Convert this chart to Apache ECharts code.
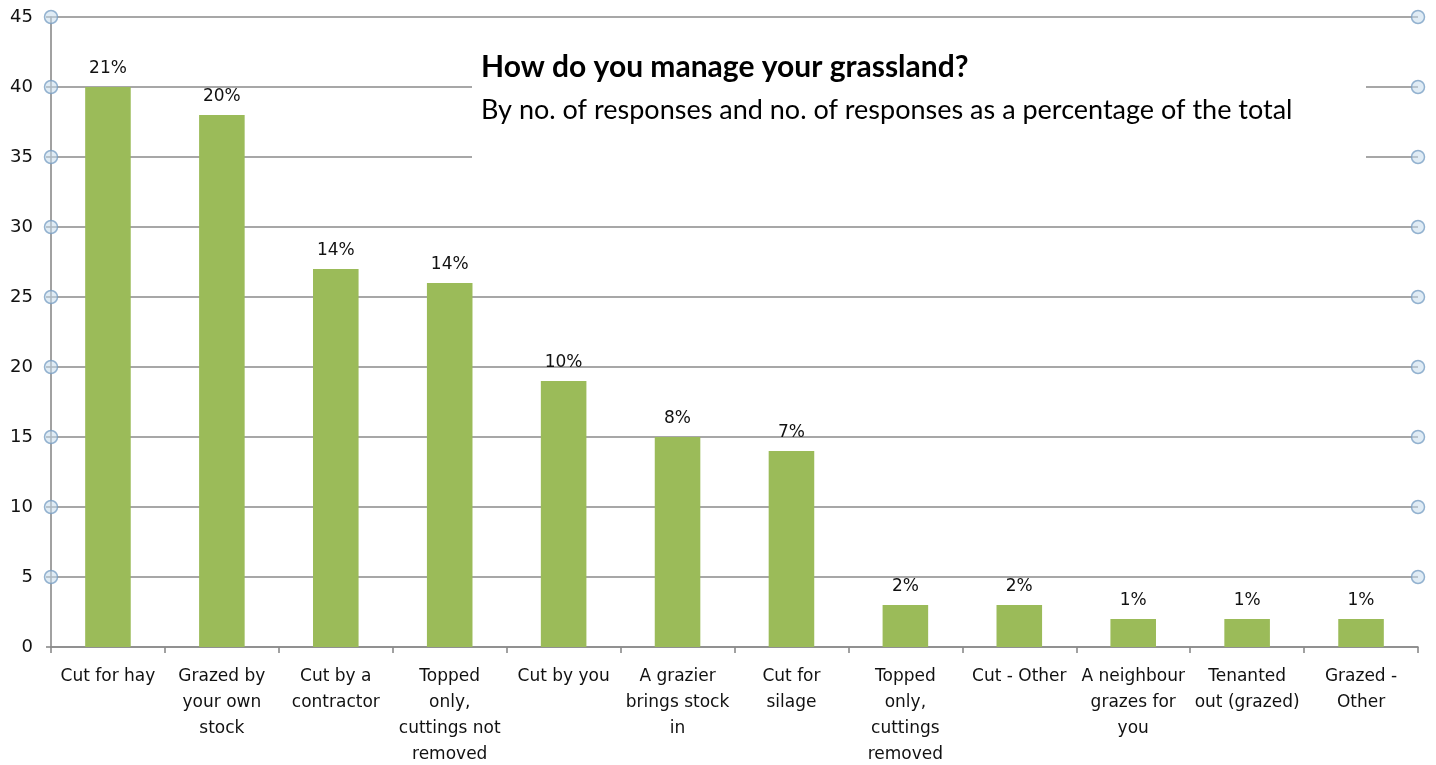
<!DOCTYPE html>
<html>
<head>
<meta charset="utf-8">
<script src="https://cdn.jsdelivr.net/npm/echarts@6/dist/echarts.min.js"></script>
<style>
html,body{margin:0;padding:0;background:#fff;}
#c{width:1436px;height:765px;}
</style>
</head>
<body>
<div id="c"></div>
<script>
const categories = [
  "Cut for hay",
  "Grazed by\nyour own\nstock",
  "Cut by a\ncontractor",
  "Topped\nonly,\ncuttings not\nremoved",
  "Cut by you",
  "A grazier\nbrings stock\nin",
  "Cut for\nsilage",
  "Topped\nonly,\ncuttings\nremoved",
  "Cut - Other",
  "A neighbour\ngrazes for\nyou",
  "Tenanted\nout (grazed)",
  "Grazed -\nOther"
];
const responses = [40, 38, 27, 26, 19, 15, 14, 3, 3, 2, 2, 2];
const percentLabels = ["21%", "20%", "14%", "14%", "10%", "8%", "7%", "2%", "2%", "1%", "1%", "1%"];
const gridTickValues = [5, 10, 15, 20, 25, 30, 35, 40, 45];
const titleText = "How do you manage your grassland?";
const subtitleText = "By no. of responses and no. of responses as a percentage of the total";

const markerData = [];
gridTickValues.forEach(v => { markerData.push([0, v]); markerData.push([1, v]); });

const chart = echarts.init(document.getElementById('c'), null, {renderer: 'canvas'});
const axisGray = '#8a8a8a';
chart.setOption({
  animation: false,
  backgroundColor: '#ffffff',
  textStyle: {fontFamily: 'DejaVu Sans'},
  grid: {left: 51, right: 18, top: 17, bottom: 118, containLabel: false, outerBoundsMode: 'none'},
  graphic: [{
    type: 'rect', z: 5,
    shape: {x: 472, y: 42, width: 894, height: 126},
    style: {fill: '#ffffff'}
  }],
  title: {
    text: titleText,
    subtext: subtitleText,
    left: 476, top: 47,
    z: 10,
    itemGap: 15,
    textStyle: {fontFamily: 'Lato', fontWeight: 'bold', fontSize: 30, color: '#000'},
    subtextStyle: {fontFamily: 'Lato', fontSize: 27, color: '#000'}
  },
  xAxis: [{
    type: 'category',
    data: categories,
    axisLine: {show: true, lineStyle: {color: axisGray, width: 1.6}},
    axisTick: {show: true, length: 6, alignWithLabel: false, lineStyle: {color: axisGray, width: 1.6}},
    axisLabel: {interval: 0, color: '#111', fontSize: 17, lineHeight: 26, margin: 17, fontFamily: 'DejaVu Sans'},
    splitLine: {show: false}
  }, {
    type: 'value', min: 0, max: 1, show: false
  }],
  yAxis: {
    type: 'value', min: 0, max: 45, interval: 5,
    axisLine: {show: true, lineStyle: {color: axisGray, width: 1.6}},
    axisTick: {show: true, length: 5, lineStyle: {color: axisGray, width: 1.6}},
    axisLabel: {color: '#111', fontSize: 18, margin: 18, fontFamily: 'DejaVu Sans'},
    splitLine: {show: true, lineStyle: {color: axisGray, width: 1.6}}
  },
  series: [{
    type: 'bar',
    data: responses,
    barWidth: '40%',
    itemStyle: {color: '#9bbb59'},
    z: 3,
    label: {
      show: true, position: 'top', distance: 10,
      color: '#111', fontSize: 17, fontFamily: 'DejaVu Sans',
      formatter: p => percentLabels[p.dataIndex]
    }
  }, {
    type: 'scatter',
    xAxisIndex: 1,
    data: markerData,
    symbol: 'circle',
    symbolSize: 13,
    clip: false,
    z: 4,
    itemStyle: {color: 'rgba(200,222,238,0.7)', borderColor: '#7aa0c4', borderWidth: 1.5},
    silent: true
  }]
});
</script>
</body>
</html>
